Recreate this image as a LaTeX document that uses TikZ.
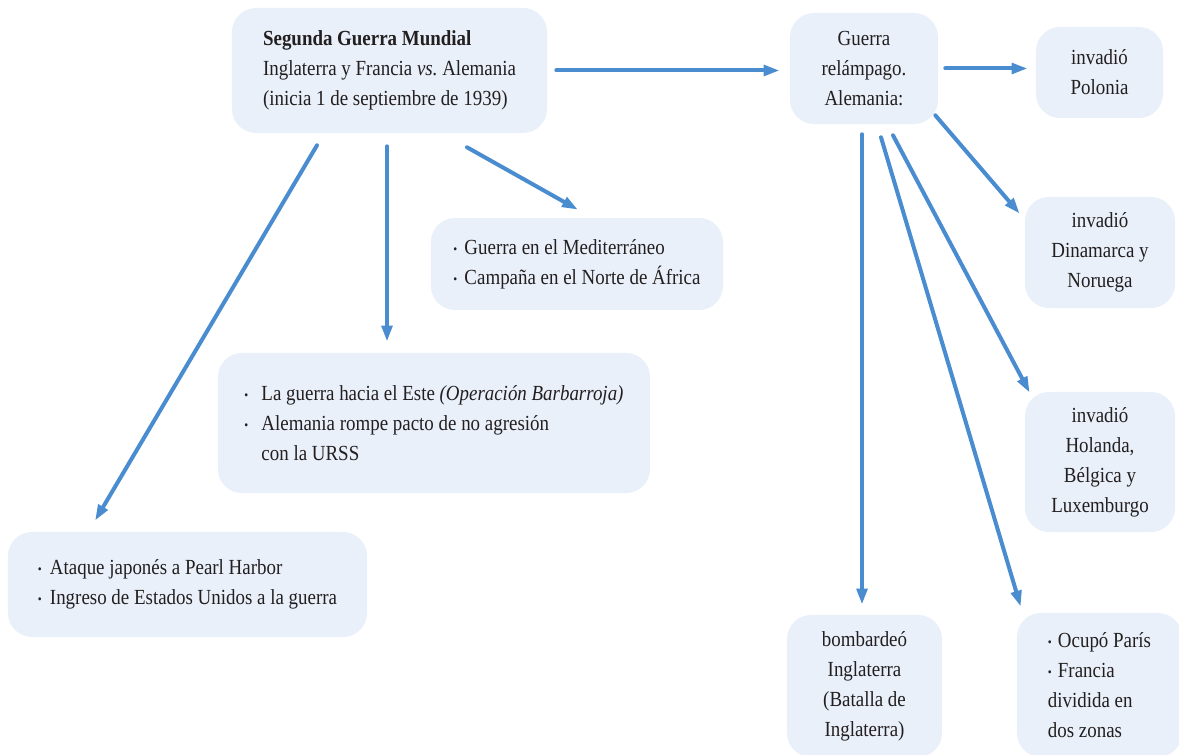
\documentclass[tikz,border=0pt]{standalone}
\usepackage{fontspec}
\setmainfont{Liberation Serif}[FakeStretch=0.88]
\usetikzlibrary{arrows.meta, positioning}
\definecolor{CardBlue}{HTML}{E9F0F9}
\definecolor{LineBlue}{HTML}{4A8CD0}
\definecolor{InkGray}{HTML}{231F20}
\tikzset{
  card/.style={fill=CardBlue, rounded corners=6mm, inner sep=0pt, align=center, font=\cardfont, text=InkGray},
  listcard/.style={card, align=left},
  arrow/.style={-{Triangle[length=4mm, width=2.6mm]}, line width=1mm, line cap=round, draw=LineBlue}
}
\newcommand{\cardfont}{\fontsize{15.3}{21.3}\selectfont}
\newcommand{\bul}[1]{\makebox[#1][l]{\raisebox{0.1ex}{\small\textbullet}}}

\begin{document}
\begin{tikzpicture}[x=0.025cm, y=-0.025cm]
\useasboundingbox (0,0) rectangle (1179,755);
% left side
\node[listcard, minimum width=78.75mm, minimum height=31.25mm] (war) at (389.5,70.5) {\textbf{Segunda Guerra Mundial}\\Inglaterra y Francia \textit{vs.}\ Alemania\\(inicia 1 de septiembre de 1939)};
\node[listcard, minimum width=73mm, minimum height=23mm] (medit) at (577,264) {\bul{2.75mm}Guerra en el Mediterráneo\\\bul{2.75mm}Campaña en el Norte de África};
\node[listcard, minimum width=108mm, minimum height=35mm] (east) at (434,423) {\bul{4.25mm}La guerra hacia el Este \textit{(Operación Barbarroja)}\\\bul{4.25mm}Alemania rompe pacto de no agresión\\\hspace*{4.25mm}con la URSS};
\node[listcard, minimum width=89.75mm, minimum height=26.25mm] (pacific) at (187.5,584.5) {\bul{3mm}Ataque japonés a Pearl Harbor\\\bul{3mm}Ingreso de Estados Unidos a la guerra};
% right side
\node[card, minimum width=37mm, minimum height=27.75mm] (blitz) at (864,68.5) {Guerra\\relámpago.\\Alemania:};
\node[card, minimum width=31.75mm, minimum height=22.75mm] (poland) at (1099.5,72.5) {invadió\\Polonia};
\node[card, minimum width=37.5mm, minimum height=27.75mm] (nordic) at (1100,252.5) {invadió\\Dinamarca y\\Noruega};
\node[card, minimum width=37.5mm, minimum height=35mm] (lowlands) at (1100,462) {invadió\\Holanda,\\Bélgica y\\Luxemburgo};
\node[card, minimum width=38.75mm, minimum height=35.5mm] (britain) at (864.5,686) {bombardeó\\Inglaterra\\(Batalla de\\Inglaterra)};
\node[listcard, minimum width=41.25mm, minimum height=36mm] (france) at (1099.5,685) {\bul{2.5mm}Ocupó París\\\bul{2.5mm}Francia\\dividida en\\dos zonas};
% connectors
\draw[arrow, shorten <=2.25mm, shorten >=2.5mm] (war.east) -- (war.east -| blitz.west);
\draw[arrow, shorten <=1.75mm, shorten >=2mm] (blitz.east) -- (blitz.east -| poland.west);
\draw[arrow] ([shift={(77.5,14)}]war.south) -- ([shift={(1,-8)}]medit.north);
\draw[arrow] ([shift={(-2.5,13)}]war.south) -- ([shift={(-47,-11)}]east.north);
\draw[arrow] ([shift={(-72.5,12)}]war.south) -- ([shift={(-92.5,-11)}]pacific.north);
\draw[arrow] ([shift={(-3,-9)}]blitz.south east) -- ([shift={(-5,17)}]nordic.north west);
\draw[arrow] ([shift={(29,11)}]blitz.south) -- ([shift={(5,1)}]lowlands.north west);
\draw[arrow] ([shift={(17,13)}]blitz.south) -- ([shift={(4,-6)}]france.north west);
\draw[arrow] ([shift={(-2,10)}]blitz.south) -- ([shift={(-2.5,-10)}]britain.north);
\end{tikzpicture}
\end{document}
